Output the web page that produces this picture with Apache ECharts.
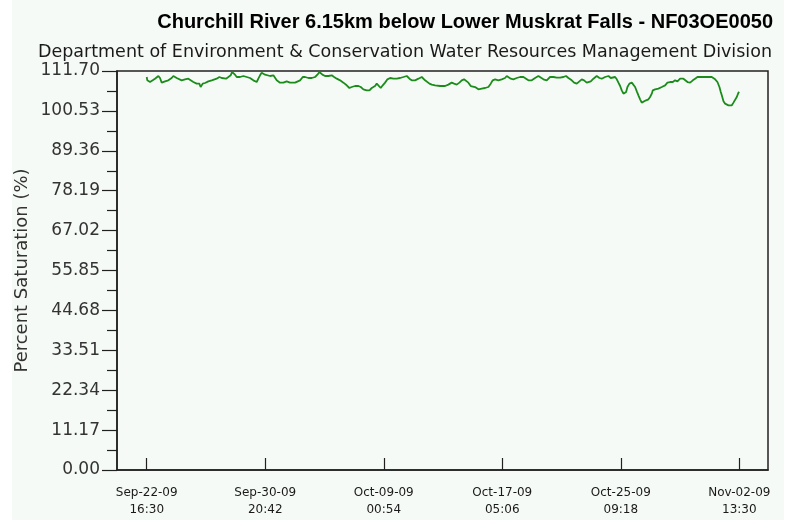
<!DOCTYPE html>
<html>
<head>
<meta charset="utf-8">
<title>Churchill River 6.15km below Lower Muskrat Falls - NF03OE0050</title>
<script src="https://cdn.jsdelivr.net/npm/echarts@6/dist/echarts.min.js"></script>
<style>
  html, body { margin: 0; padding: 0; background: #ffffff; }
  #chart { width: 796px; height: 522px; }
</style>
</head>
<body>
<div id="chart"></div>
<script>
// Hours elapsed since Sep-22-09 16:30
const hours = [
  0, 1.0, 5.5, 9.9, 13.7, 19.3, 22.0, 24.8, 27.5, 30.3, 35.8, 41.3, 44.1, 46.9, 49.6,
  52.4, 57.9, 60.7, 63.4, 68.9, 71.7, 77.2, 82.7, 87.1, 89.3, 92.7, 96.5, 102.0, 107.6,
  110.3, 115.8, 120.3, 124.1, 126.9, 131.3, 135.2, 139.0, 141.2, 143.4, 146.2, 149.0,
  154.5, 160.0, 165.5, 171.0, 176.5, 182.1, 184.8, 187.6, 190.3, 193.1, 195.9, 198.6,
  204.1, 209.7, 212.4, 215.2, 220.7, 226.2, 231.7, 237.3, 245.5,
  248.3, 253.9, 258.3, 262.1, 267.7, 273.2, 278.7, 282.6, 285.9, 288.1, 290.8, 295.2,
  300.8, 306.3, 310.2, 314.6, 320.1, 325.6, 331.1, 335.5, 339.4, 344.9, 350.4, 354.3,
  358.7, 364.2, 368.7, 372.5, 378.0, 380.8, 383.6, 387.4, 390.7, 394.6, 398.5, 402.9,
  408.4, 413.9, 419.4, 425.0, 427.7, 430.5, 434.9, 438.7, 444.3, 449.8, 455.3, 458.1,
  460.8, 463.6, 468.0, 471.9, 477.4, 480.1, 485.7, 493.9,
  499.4, 504.9, 508.8, 513.2, 517.6, 521.5, 525.3, 528.6, 532.5, 536.4, 539.7, 543.6,
  549.1, 554.6, 560.1, 565.6, 569.5, 572.8, 576.7, 582.2, 587.7, 593.2, 596.0, 598.7,
  602.6, 607.0, 612.5, 618.1, 623.6, 628.0, 631.9, 637.4, 642.9, 648.4, 651.2, 656.7,
  662.2, 667.7, 673.2, 678.8, 684.3, 689.8, 694.2, 698.1, 703.6, 707.5, 711.9, 716.3,
  720.2, 724.0, 728.4, 731.2, 735.1, 739.5, 742.2,
  745.0, 749.5, 753.3, 758.8, 764.4, 768.2, 771.5, 775.4, 778.2, 780.9, 783.7, 786.4,
  789.2, 792.0, 793.6, 795.8, 799.1, 803.0, 805.7, 808.5, 811.3, 814.0, 816.8, 819.5,
  822.3, 826.7, 830.6, 833.3, 836.1, 837.8, 841.6, 847.1, 852.7, 858.2, 862.0, 866.5,
  870.9, 874.7, 878.6, 883.0, 885.8, 888.5, 891.3, 895.2, 899.6, 904.0, 907.8, 911.7,
  918.9, 927.2, 935.4, 941.0, 944.8, 948.1, 950.3, 952.0, 954.8, 957.5, 960.3, 963.0,
  965.8, 968.6, 971.3, 974.1, 976.8, 979.6, 981.0
];

// Dissolved oxygen, percent saturation
const saturation = [
  110.02, 109.09, 108.62, 109.09, 109.55, 110.30, 109.74, 108.44, 108.44, 108.81, 109.09, 109.74, 110.30, 110.02, 109.74,
  109.37, 109.09, 109.09, 109.37, 109.55, 109.09, 108.62, 108.16, 108.16, 107.22, 108.16, 108.34, 108.81, 109.09,
  109.37, 109.55, 110.02, 109.74, 109.74, 109.55, 110.02, 110.49, 111.42, 111.61, 110.67, 110.02,
  110.02, 110.30, 110.02, 109.74, 109.09, 108.62, 109.55, 110.49, 111.23, 111.42, 110.67, 110.30,
  110.30, 110.49, 110.02, 109.09, 108.44, 108.44, 108.81, 108.44, 108.44,
  108.62, 109.09, 110.02, 110.02, 109.74, 109.74, 110.02, 110.67, 111.42, 111.61, 110.67, 110.30,
  110.30, 110.49, 110.02, 109.55, 109.09, 108.44, 107.69, 106.94, 107.22, 107.50, 107.50, 107.22,
  106.57, 106.29, 106.29, 106.94, 107.50, 108.16, 107.69, 106.94, 107.69, 108.44, 109.37, 109.74,
  109.55, 109.55, 109.74, 110.02, 110.49, 110.30, 109.55, 109.09, 109.09, 109.55, 110.02, 109.74,
  109.09, 108.62, 108.16, 107.88, 107.69, 107.22, 107.50, 107.50,
  107.88, 108.44, 108.16, 107.88, 108.44, 109.09, 109.37, 109.09, 108.44, 107.50, 107.50, 107.22,
  106.57, 106.76, 106.94, 107.22, 108.16, 109.09, 109.37, 109.09, 109.37, 109.74, 110.30, 110.02,
  109.55, 109.37, 109.74, 110.02, 110.02, 109.55, 109.09, 109.09, 109.74, 110.30, 110.02, 109.37,
  109.09, 110.02, 110.02, 109.83, 109.83, 110.02, 110.30, 109.74, 109.09, 108.44, 108.16, 108.81,
  109.37, 109.09, 108.44, 108.16, 108.81, 109.55, 110.02,
  110.30, 109.74, 109.55, 110.02, 110.30, 109.74, 110.02, 110.02, 109.37, 108.44, 107.50, 106.29,
  105.35, 105.07, 105.82, 107.22, 108.16, 108.44, 108.16, 107.22, 106.01, 104.89, 103.77, 102.84,
  103.21, 103.49, 103.77, 104.42, 105.35, 106.29, 106.57, 106.76, 107.22, 107.69, 108.44, 108.62,
  108.62, 109.09, 108.81, 109.55, 110.02, 109.55, 109.09, 108.62, 108.44, 109.09, 109.55, 110.02,
  110.02, 110.02, 110.02, 109.37, 108.62, 107.22, 105.82, 104.89, 103.21, 102.56, 102.28, 102.09,
  102.56, 102.09, 102.84, 103.21, 104.42, 105.63, 105.82
];

// Time axis ticks (hours since start) and their two-line labels
const tickHours = [0, 196.2, 392.4, 588.6, 784.8, 981.0];
const tickLabels = [
  'Sep-22-09\n16:30', 'Sep-30-09\n20:42', 'Oct-09-09\n00:54',
  'Oct-17-09\n05:06', 'Oct-25-09\n09:18', 'Nov-02-09\n13:30'
];

const yMax = 111.70;
const yStep = 11.17;

const points = hours.map((h, i) => [h, saturation[i]]);

const chart = echarts.init(document.getElementById('chart'), null, { renderer: 'canvas' });

chart.setOption({
  backgroundColor: '#ffffff',
  animation: false,
  graphic: [{
    type: 'rect',
    z: -10,
    silent: true,
    shape: { x: 12, y: 0, width: 772, height: 520 },
    style: { fill: '#f6faf6' }
  }],
  title: [{
    text: 'Churchill River 6.15km below Lower Muskrat Falls - NF03OE0050',
    right: 18,
    top: 7,
    textStyle: { fontFamily: 'Liberation Sans', fontSize: 20, fontWeight: 'bold', color: '#000000' }
  }, {
    text: 'Department of Environment & Conservation Water Resources Management Division',
    right: 19,
    top: 38,
    textStyle: { fontFamily: 'DejaVu Sans', fontSize: 17.5, fontWeight: 'normal', color: '#1a1a1a' }
  }],
  grid: {
    left: 117, right: 28, top: 71, bottom: 52,
    show: true,
    borderColor: '#202020',
    borderWidth: 1.5,
    backgroundColor: 'transparent'
  },
  xAxis: {
    type: 'value',
    min: -49.2,
    max: 1028.5,
    axisLine: { show: true, onZero: false, lineStyle: { color: '#202020', width: 1.5 } },
    splitLine: { show: false },
    axisTick: {
      show: true,
      inside: true,
      length: 12,
      customValues: tickHours,
      lineStyle: { color: '#202020', width: 1.2 }
    },
    axisLabel: {
      customValues: tickHours,
      margin: 14,
      fontFamily: 'DejaVu Sans',
      fontSize: 12,
      lineHeight: 17,
      color: '#1a1a1a',
      formatter: (v) => {
        const i = tickHours.findIndex(t => Math.abs(t - v) < 0.5);
        return i >= 0 ? tickLabels[i] : '';
      }
    }
  },
  yAxis: {
    type: 'value',
    min: 0,
    max: yMax,
    interval: yStep,
    name: 'Percent Saturation (%)',
    nameLocation: 'middle',
    nameRotate: 90,
    nameGap: 86,
    nameMoveOverlap: false,
    nameTextStyle: { fontFamily: 'DejaVu Sans', fontSize: 18, color: '#333333' },
    axisLine: { show: true, onZero: false, lineStyle: { color: '#202020', width: 1.5 } },
    splitLine: { show: false },
    axisTick: { show: true, length: 15, lineStyle: { color: '#202020', width: 1.2 } },
    minorTick: { show: true, splitNumber: 2, length: 10, lineStyle: { color: '#202020', width: 1.2 } },
    axisLabel: {
      margin: 17,
      fontFamily: 'DejaVu Sans',
      fontSize: 17,
      color: '#333333',
      formatter: (v) => v.toFixed(2)
    }
  },
  series: [{
    type: 'line',
    data: points,
    showSymbol: false,
    lineStyle: { color: '#1b8c1b', width: 1.8 },
    clip: true
  }]
});
</script>
</body>
</html>
